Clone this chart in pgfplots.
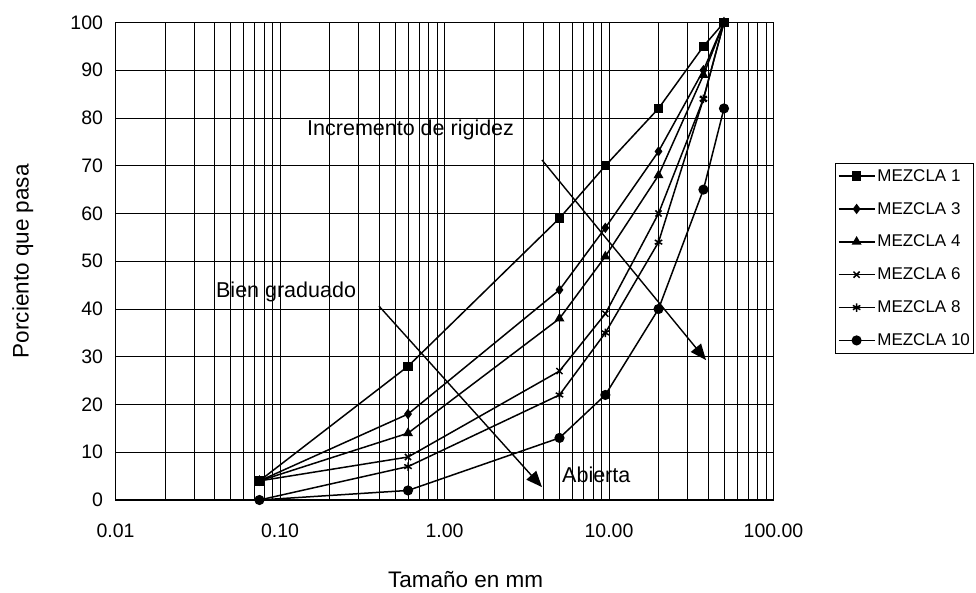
\documentclass[border=0pt]{standalone}
\usepackage{pgfplots}
\pgfplotsset{compat=1.18}
\usepackage{fontspec}
\setmainfont{Liberation Sans}
\usetikzlibrary{arrows.meta}

% tamiz (mm) vs porciento que pasa
\pgfplotstableread{
x     m1   m3   m4   m6   m8   m10
0.075 4    4    4    4    0    0
0.6   28   18   14   9    7    2
5     59   44   38   27   22   13
9.5   70   57   51   39   35   22
20    82   73   68   60   54   40
37.5  95   90   89   84   84   65
50    100  100  100  100  100  82
}\granulometria

\begin{document}
\begin{tikzpicture}
\begin{axis}[
    at={(115.5pt,92pt)}, anchor=south west,
    scale only axis,
    width=658pt, height=477.5pt,
    xmode=log,
    xmin=0.01, xmax=100,
    ymin=0, ymax=100,
    xtick={0.01,0.1,1,10,100},
    xticklabels={0.01,0.10,1.00,10.00,100.00},
    minor xtick={0.02,0.03,0.04,0.05,0.06,0.07,0.08,0.09,
                 0.2,0.3,0.4,0.5,0.6,0.7,0.8,0.9,
                 2,3,4,5,6,7,8,9,20,30,40,50,60,70,80,90},
    ytick={0,10,...,100},
    grid=both,
    major grid style={black, line width=0.9pt},
    minor grid style={black, line width=0.7pt},
    axis line style={black, line width=1.1pt},
    tick style={draw=none},
    /pgf/number format/assume math mode=true,
    tick label style={font=\fontsize{19.5}{21}\selectfont},
    xticklabel style={yshift=-20pt},
    yticklabel style={xshift=-9pt},
    xlabel={Tamaño en mm},
    ylabel={Porciento que pasa},
    label style={font=\fontsize{22.5}{24}\selectfont},
    xlabel style={at={(axis description cs:0.532,-0.167)}, anchor=center},
    ylabel style={at={(axis description cs:-0.141,0.5)}, anchor=center},
    legend style={at={(1.094,0.706)}, anchor=north west, draw=black,
        line width=1pt,
        font=\fontsize{17}{19}\selectfont, row sep=15.5pt,
        inner xsep=2pt, inner ysep=4pt},
    legend cell align=left,
    legend image code/.code={
        \draw[mark repeat=2,mark phase=2] plot coordinates {(0pt,0pt) (18pt,0pt) (36pt,0pt)};},
    every axis plot/.append style={black, line width=1.5pt, mark options={fill=black, solid}},
]
\addplot[mark=square*, mark size=4pt] table[x=x, y=m1] {\granulometria};
\addlegendentry{MEZCLA 1}
\addplot[mark=diamond*, mark size=4pt] table[x=x, y=m3] {\granulometria};
\addlegendentry{MEZCLA 3}
\addplot[mark=triangle*, mark size=4.3pt] table[x=x, y=m4] {\granulometria};
\addlegendentry{MEZCLA 4}
\addplot[mark=x, mark size=4.3pt] table[x=x, y=m6] {\granulometria};
\addlegendentry{MEZCLA 6}
\addplot[mark=asterisk, mark size=4.3pt] table[x=x, y=m8] {\granulometria};
\addlegendentry{MEZCLA 8}
\addplot[mark=*, mark size=4.3pt] table[x=x, y=m10] {\granulometria};
\addlegendentry{MEZCLA 10}

\node[anchor=west, inner sep=0pt, font=\fontsize{21.5}{23}\selectfont]
    at (axis cs:0.146,77.5) {Incremento de rigidez};
\node[anchor=west, inner sep=0pt, font=\fontsize{21.5}{23}\selectfont]
    at (axis cs:0.0408,43.6) {Bien graduado};
\node[anchor=west, inner sep=0pt, font=\fontsize{21.5}{23}\selectfont]
    at (axis cs:5.18,5.2) {Abierta};
\draw[line width=1.4pt, -{Triangle[length=16pt,width=13pt]}]
    (axis cs:3.915,71.2) -- (axis cs:38.9,29.3);
\draw[line width=1.4pt, -{Triangle[length=16pt,width=13pt]}]
    (axis cs:0.400,40.6) -- (axis cs:3.915,2.7);
\end{axis}
\pgfresetboundingbox
\path[use as bounding box] (0pt,0pt) rectangle (976pt,592pt);
\end{tikzpicture}
\end{document}
